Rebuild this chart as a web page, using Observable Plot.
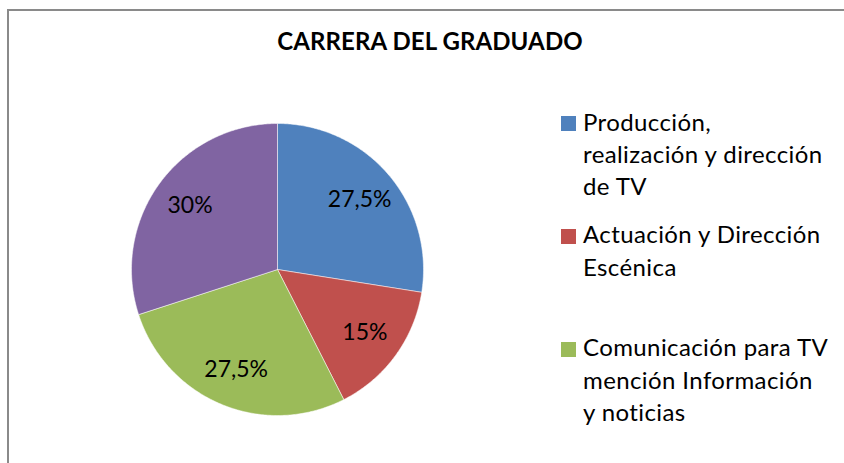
<!DOCTYPE html>
<html><head><meta charset="utf-8">
<script src="https://cdn.jsdelivr.net/npm/d3@7"></script>
<script src="https://cdn.jsdelivr.net/npm/@observablehq/plot@0.6"></script>
<style>
html,body{margin:0;padding:0;background:#fff;overflow:hidden;}
body{width:844px;height:463px;position:relative;font-family:Lato,"Open Sans",sans-serif;color:#000;}
#frame{position:absolute;left:7px;top:9px;width:900px;height:520px;border-top:2px solid #8a8a8a;border-left:2px solid #8a8a8a;}
#title{position:absolute;left:430px;top:28.7px;transform:translateX(-50%);white-space:nowrap;font-weight:bold;font-size:24px;line-height:24px;letter-spacing:0.1px;}
#pie{position:absolute;left:127px;top:119px;}
.entry{position:absolute;left:561px;}
.entry .sw{position:absolute;left:0;width:15px;height:15px;}
.entry .tx{position:absolute;left:22px;font-size:24px;line-height:32.4px;white-space:nowrap;letter-spacing:0.4px;}
</style>
</head><body>
<div id="frame"></div>
<div id="title"></div>
<div id="pie"></div>
<div id="legend"></div>
<script>
// ---- data ----
const title = "CARRERA DEL GRADUADO";
const categories = ["Producción, realización y dirección de TV", "Actuación y Dirección Escénica", "Comunicación para TV mención Información y noticias", "Otra"];
const values = [27.5, 15, 27.5, 30];
const valueLabels = ["27,5%", "15%", "27,5%", "30%"];
const colors = ["#4F81BD", "#C0504D", "#9BBB59", "#8064A2"];
const legendLines = [
  ["Producción,", "realización y dirección", "de TV"],
  ["Actuación y Dirección", "Escénica"],
  ["Comunicación para TV", "mención Información", "y noticias"]
];

document.getElementById("title").textContent = title;

// ---- pie geometry from data ----
const arcs = d3.pie().sort(null).value(d => d)(values);
const slicePts = [];
arcs.forEach((a, i) => {
  const n = Math.max(8, Math.ceil((a.endAngle - a.startAngle) / 0.01));
  slicePts.push({cat: categories[i], x: 0, y: 0});
  for (let k = 0; k <= n; k++) {
    const t = a.startAngle + (a.endAngle - a.startAngle) * k / n;
    slicePts.push({cat: categories[i], x: Math.sin(t), y: Math.cos(t)});
  }
  slicePts.push({cat: categories[i], x: 0, y: 0});
});
const labelPts = arcs.map((a, i) => {
  const m = (a.startAngle + a.endAngle) / 2;
  return {x: 0.74 * Math.sin(m), y: 0.74 * Math.cos(m), text: valueLabels[i]};
});

const chart = Plot.plot({
  width: 300, height: 300, margin: 4,
  style: {fontFamily: "Lato, 'Open Sans', sans-serif", background: "transparent"},
  x: {domain: [-1, 1], axis: null},
  y: {domain: [-1, 1], axis: null},
  color: {domain: categories, range: colors},
  marks: [
    Plot.line(slicePts, {x: "x", y: "y", z: "cat", fill: "cat", stroke: "#ffffff", strokeOpacity: 0.5, strokeWidth: 1}),
    Plot.text(labelPts, {x: "x", y: "y", text: "text", fontSize: 23, fill: "#000"})
  ]
});
document.getElementById("pie").appendChild(chart);

// ---- legend ----
const tops = [105.5, 218.2, 331.2];
const leg = document.getElementById("legend");
legendLines.forEach((lines, i) => {
  const e = document.createElement("div");
  e.className = "entry";
  e.style.top = tops[i] + "px";
  const sw = document.createElement("div");
  sw.className = "sw";
  sw.style.background = colors[i];
  sw.style.top = "10.5px";
  const tx = document.createElement("div");
  tx.className = "tx";
  tx.style.top = "0px";
  tx.innerHTML = lines.join("<br>");
  e.appendChild(sw); e.appendChild(tx);
  leg.appendChild(e);
});
</script>
</body></html>
